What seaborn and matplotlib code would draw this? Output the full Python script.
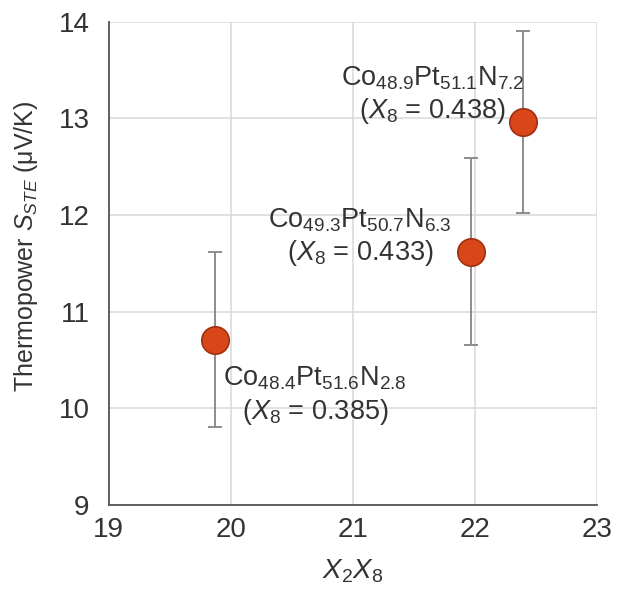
import matplotlib
matplotlib.use("Agg")
import matplotlib.pyplot as plt
import seaborn as sns
import pandas as pd

# data
x2x8 = [19.87, 21.965, 22.39]
s_ste = [10.71, 11.62, 12.96]
s_err = [0.91, 0.97, 0.94]
labels = [
    "Co$_{48.4}$Pt$_{51.6}$N$_{2.8}$\n($X_\\mathit{8}$ = 0.385)",
    "Co$_{49.3}$Pt$_{50.7}$N$_{6.3}$\n($X_\\mathit{8}$ = 0.433)",
    "Co$_{48.9}$Pt$_{51.1}$N$_{7.2}$\n($X_\\mathit{8}$ = 0.438)",
]
label_pos = [(20.69, 10.13), (21.06, 11.77), (21.65, 13.24)]

df = pd.DataFrame({"x": x2x8, "y": s_ste, "err": s_err})

sns.set_style("white")
plt.rcParams["font.family"] = ["Liberation Sans", "DejaVu Sans"]
plt.rcParams["mathtext.fontset"] = "custom"
plt.rcParams["mathtext.rm"] = "Liberation Sans"
plt.rcParams["mathtext.it"] = "Liberation Sans:italic"
plt.rcParams["mathtext.bf"] = "Liberation Sans:bold"

fig = plt.figure(figsize=(6.22, 5.89), dpi=100)
ax = fig.add_axes([0.175, 0.143, 0.785, 0.82])

ax.errorbar(df["x"], df["y"], yerr=df["err"], fmt="none", ecolor="#858585",
            elinewidth=1.3, capsize=5, capthick=1.3, zorder=2)
sns.scatterplot(data=df, x="x", y="y", ax=ax, s=390, color="#d8461a",
                edgecolor="#9e3210", linewidth=1.2, zorder=3, legend=False)

for txt, (tx, ty) in zip(labels, label_pos):
    ax.text(tx, ty, txt, ha="center", va="center", multialignment="center",
            fontsize=19.5, color="#333333", linespacing=1.2, zorder=4)

ax.set_xlim(19, 23)
ax.set_ylim(9, 14)
ax.set_xticks([19, 20, 21, 22, 23])
ax.set_yticks([9, 10, 11, 12, 13, 14])
ax.grid(True, color="#d9d9d9", linewidth=1.1)
ax.set_axisbelow(True)
for side in ["top", "right"]:
    ax.spines[side].set_visible(False)
for side in ["left", "bottom"]:
    ax.spines[side].set_color("#555555")
    ax.spines[side].set_linewidth(1.3)
ax.tick_params(axis="x", labelsize=20, colors="#333333", length=0, pad=9)
ax.tick_params(axis="y", labelsize=20, colors="#333333", length=0, pad=14)

ax.set_xlabel("$X_2X_\\mathit{8}$", fontsize=20, color="#333333", labelpad=10)
ax.set_ylabel("Thermopower $S_{STE}$ (μV/K)", fontsize=18, color="#333333")
ax.yaxis.set_label_coords(-0.14, 0.535)

fig.savefig("out.png", dpi=100)
